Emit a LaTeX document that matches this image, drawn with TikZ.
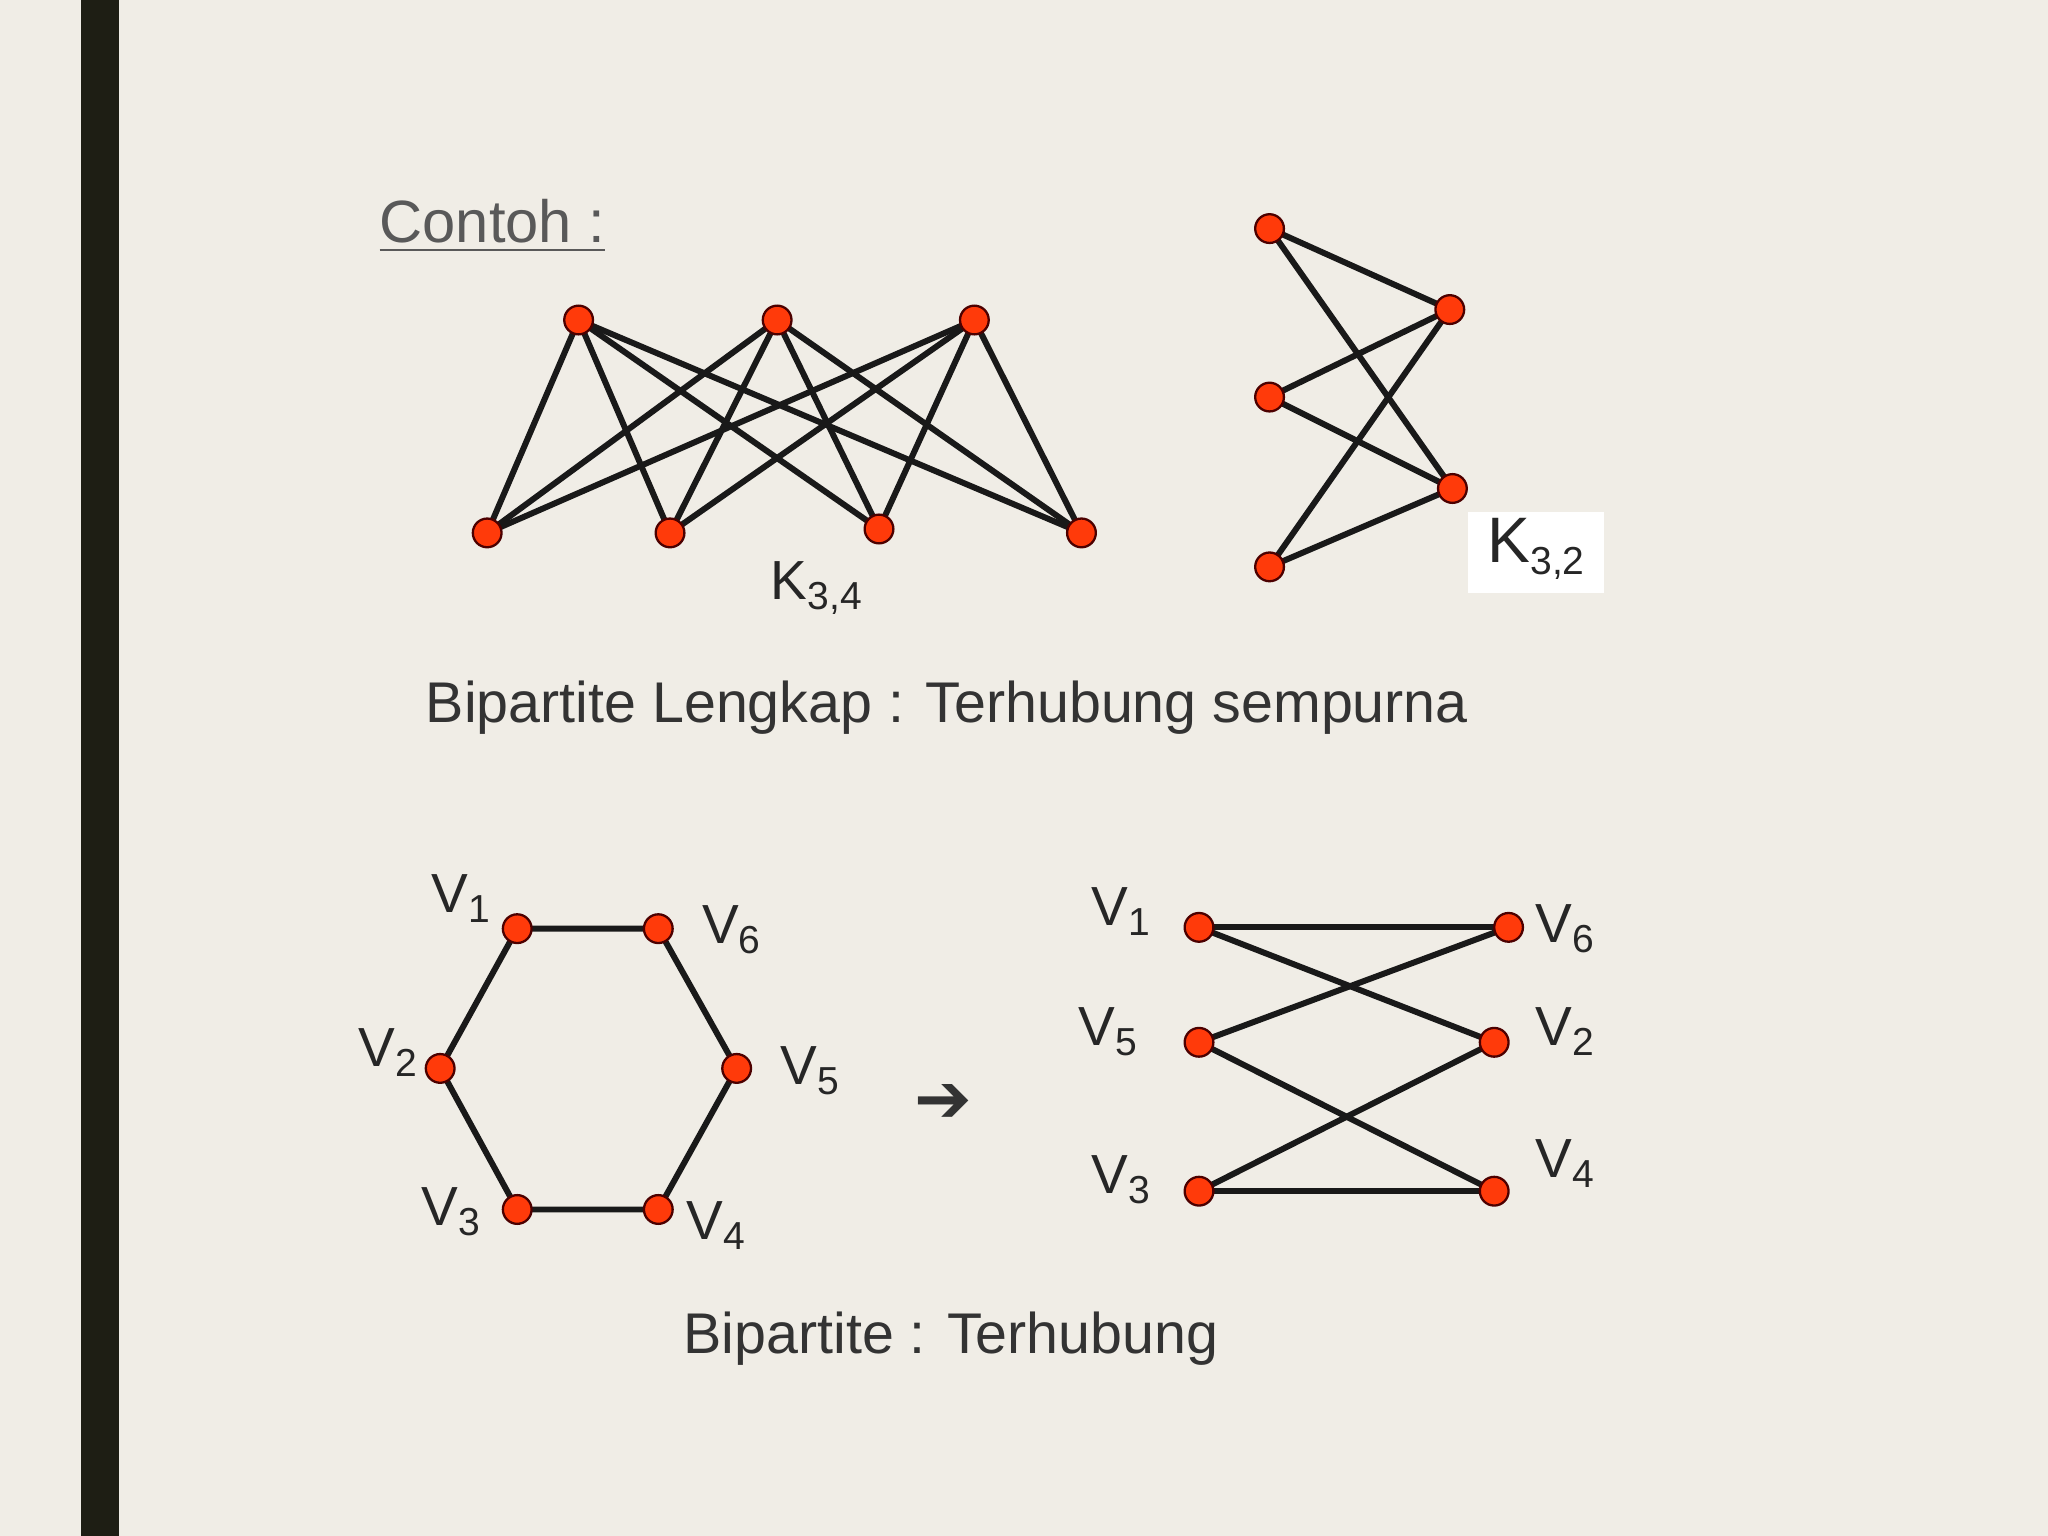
\documentclass[tikz,border=0pt]{standalone}
\usepackage{fontspec}
\setmainfont{Liberation Sans}
\newfontfamily\dejavu{DejaVu Sans}
\definecolor{bg}{HTML}{F0EDE6}
\definecolor{bar}{HTML}{1E1E14}
\definecolor{vred}{HTML}{FF3A0A}
\definecolor{txt}{HTML}{333333}
\newcommand{\vl}[2]{#1\raisebox{-0.35ex}{\fontsize{8.5}{9}\selectfont #2}}
\begin{document}
\begin{tikzpicture}[x=0.1mm,y=-0.1mm,
  vtx/.style={circle,fill=vred,draw=black!70!red,line width=0.5pt,inner sep=0pt,minimum size=2.2mm},
  edge/.style={line width=1.3pt,black!90},
  lbl/.style={font=\fontsize{12}{14}\selectfont,text=black!85},
  big/.style={font=\fontsize{12.5}{15}\selectfont,text=txt}]
\fill[bg] (0,0) rectangle (1568,1176);
\useasboundingbox (0,0) rectangle (1568,1176);
\fill[bar] (62,0) rectangle (91,1176);
\node[font=\fontsize{13}{15}\selectfont,text=black!65] (contoh) at (377,173) {\underline{Contoh :}};
% K34
\foreach \n/\x/\y in {a1/443/245,a2/595/245,a3/746/245,b1/373/408,b2/513/408,b3/673/405,b4/828/408}
  \coordinate (\n) at (\x,\y);
\foreach \a in {a1,a2,a3}\foreach \b in {b1,b2,b3,b4} \draw[edge] (\a)--(\b);
\foreach \n in {a1,a2,a3,b1,b2,b3,b4} \node[vtx] at (\n) {};
\node[lbl] (k34) at (625,450) {\vl{K}{3,4}};
% K32
\foreach \n/\x/\y in {c1/972/175,c2/972/304,c3/972/434,d1/1110/237,d2/1112/374}
  \coordinate (\n) at (\x,\y);
\foreach \a in {c1,c2,c3}\foreach \b in {d1,d2} \draw[edge] (\a)--(\b);
\foreach \n in {c1,c2,c3,d1,d2} \node[vtx] at (\n) {};
\fill[white] (1124,392) rectangle (1228,454);
\node[font=\fontsize{14}{16}\selectfont,text=black!85] (k32) at (1176,420) {\vl{K}{3,2}};
\node[big] (t1) at (725,542) {Bipartite Lengkap : Terhubung sempurna};
% hexagon
\foreach \n/\x/\y in {h1/396/711,h6/504/711,h5/564/818,h4/504/926,h3/396/926,h2/337/818}
  \coordinate (\n) at (\x,\y);
\draw[edge] (h1)--(h6)--(h5)--(h4)--(h3)--(h2)--(h1);
\foreach \n in {h1,h2,h3,h4,h5,h6} \node[vtx] at (\n) {};
\node[lbl] at (353,688) {\vl{V}{1}};
\node[lbl] at (560,712) {\vl{V}{6}};
\node[lbl] at (620,820) {\vl{V}{5}};
\node[lbl] at (548,938) {\vl{V}{4}};
\node[lbl] at (345,928) {\vl{V}{3}};
\node[lbl] at (297,806) {\vl{V}{2}};
\node[font=\dejavu\fontsize{15}{16}\selectfont,text=black!80] (arr) at (722,845) {➔};
% right bipartite
\foreach \n/\x/\y in {r1/918/710,r6/1155/710,r5/918/798,r2/1144/798,r3/918/912,r4/1144/912}
  \coordinate (\n) at (\x,\y);
\draw[edge] (r1)--(r6); \draw[edge] (r1)--(r2); \draw[edge] (r6)--(r5);
\draw[edge] (r5)--(r4); \draw[edge] (r2)--(r3); \draw[edge] (r3)--(r4);
\foreach \n in {r1,r2,r3,r4,r5,r6} \node[vtx] at (\n) {};
\node[lbl] at (858,698) {\vl{V}{1}};
\node[lbl] at (1198,711) {\vl{V}{6}};
\node[lbl] at (848,790) {\vl{V}{5}};
\node[lbl] at (1198,790) {\vl{V}{2}};
\node[lbl] at (858,903) {\vl{V}{3}};
\node[lbl] at (1198,891) {\vl{V}{4}};
\node[big] (t2) at (728,1025) {Bipartite : Terhubung};
\end{tikzpicture}
\end{document}
